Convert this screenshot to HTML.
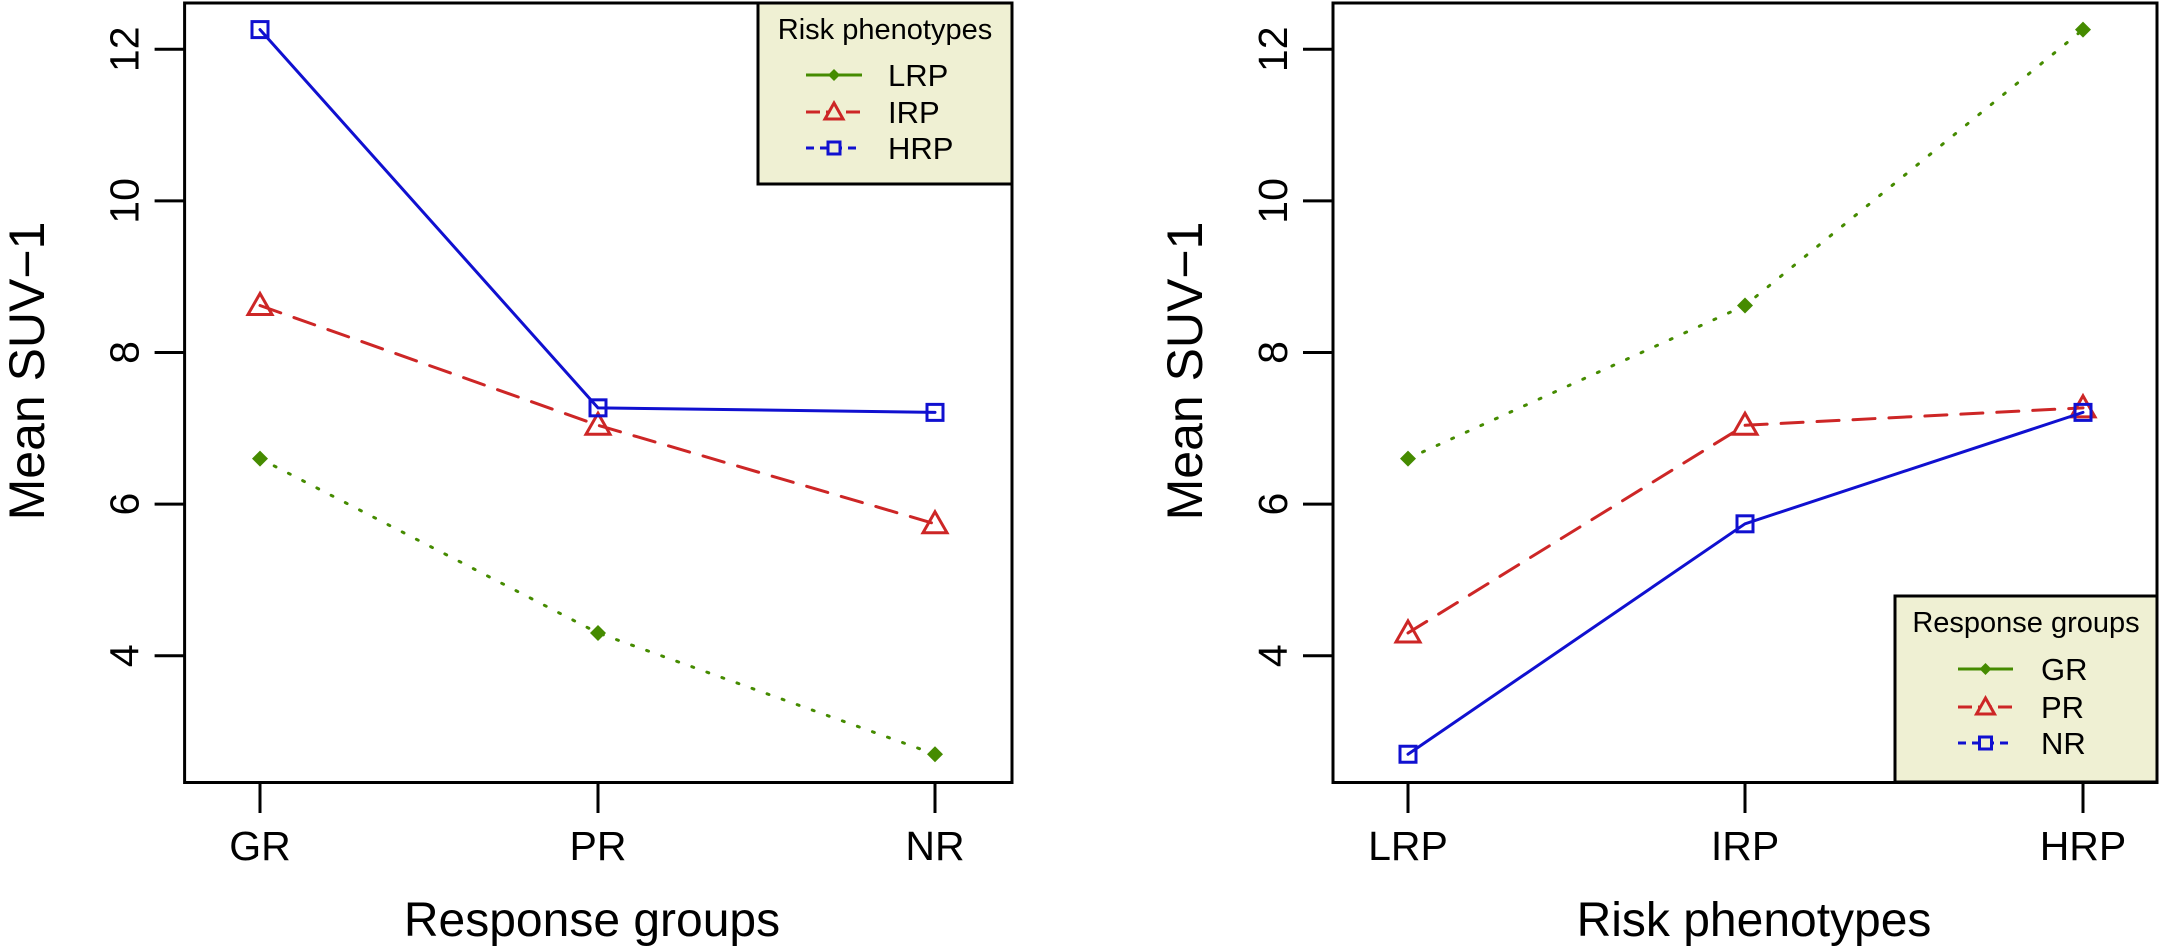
<!DOCTYPE html>
<html><head><meta charset="utf-8"><style>
html,body{margin:0;padding:0;background:#fff;}
svg{display:block;font-family:"Liberation Sans",sans-serif;}
</style></head><body>
<svg id="chart" width="2160" height="949" viewBox="0 0 2160 949" xmlns="http://www.w3.org/2000/svg"></svg>
<script>
const leftCategories = ["GR","PR","NR"];
const leftSeriesNames = ["LRP","IRP","HRP"];
const leftLRP = [6.6, 4.3, 2.7];
const leftIRP = [8.62, 7.04, 5.74];
const leftHRP = [12.26, 7.27, 7.21];
const rightCategories = ["LRP","IRP","HRP"];
const rightSeriesNames = ["GR","PR","NR"];
const rightGR = [6.6, 8.62, 12.26];
const rightPR = [4.3, 7.04, 7.27];
const rightNR = [2.7, 5.74, 7.21];
const yTicks = [4, 6, 8, 10, 12];

const svg = document.getElementById('chart');
const NS = "http://www.w3.org/2000/svg";
function mk(tag, attrs, parent, text){
  const e = document.createElementNS(NS, tag);
  for (const k in attrs) e.setAttribute(k, attrs[k]);
  if (text !== undefined) e.textContent = text;
  (parent || svg).appendChild(e);
  return e;
}
const GREEN="#458B00", RED="#CD2626", BLUE="#1010D0";
const styles = [
  {color:GREEN, dash:"2 14", marker:"diamond"},
  {color:RED, dash:"22 14", marker:"triangle"},
  {color:BLUE, dash:"", marker:"square"}
];
const legendDash = ["", "14 6", "8 6"];

function yScale(v){ return 655.7 - (v - 4) * 75.8; }

function marker(g, type, x, y, color){
  let m;
  if (type === "diamond") {
    m = mk('polygon', {points:`${x},${y-8} ${x+8},${y} ${x},${y+8} ${x-8},${y}`, fill:color}, g);
  } else if (type === "triangle") {
    m = mk('polygon', {points:`${x},${y-12} ${x+12},${y+9} ${x-12},${y+9}`, fill:"none", stroke:color, 'stroke-width':3}, g);
  } else {
    m = mk('rect', {x:x-8, y:y-8, width:16, height:16, fill:"none", stroke:color, 'stroke-width':3}, g);
  }
  
  
}

function panel(p){
  const g = mk('g', {});
  
  
  const xs = p.xs;
  // series
  p.series.forEach((vals, si) => {
    const st = styles[si];
    const sg = mk('g', {}, g);
    
    
    const pts = vals.map((v,i)=>`${xs[i]},${yScale(v)}`).join(' ');
    const pl = mk('polyline', {points:pts, fill:"none", stroke:st.color, 'stroke-width':3, 'stroke-dasharray':st.dash, 'stroke-linecap':'round'}, sg);
    
    
    vals.forEach((v,i)=>marker(sg, st.marker, xs[i], yScale(v), st.color));
  });
  // frame
  const fr = mk('rect', {x:p.left, y:3, width:p.right-p.left, height:779.5, fill:"none", stroke:"#000", 'stroke-width':3}, g);
  
  
  // x ticks
  p.cats.forEach((c,i)=>{
    const t = mk('line', {x1:xs[i], x2:xs[i], y1:782, y2:813, stroke:"#000", 'stroke-width':3}, g);
    
    
    const lab = mk('text', {x:xs[i], y:860, 'font-size':41, 'text-anchor':'middle'}, g, c);
    
    
  });
  // y ticks
  yTicks.forEach(v=>{
    const y = yScale(v);
    const t = mk('line', {x1:p.left-30, x2:p.left, y1:y, y2:y, stroke:"#000", 'stroke-width':3}, g);
    
    
    const lab = mk('text', {x:0, y:0, 'font-size':41, 'text-anchor':'middle', transform:`translate(${p.left-46},${y}) rotate(-90)`}, g, String(v));
    
    
  });
  const yt = mk('text', {x:0, y:0, 'font-size':50, 'text-anchor':'middle', transform:`translate(${p.ylabX},371) rotate(-90)`}, g, "Mean SUV\u22121");
  
  
  const xt = mk('text', {x:p.xtitleX, y:936, 'font-size':48, 'text-anchor':'middle'}, g, p.xtitle);
  
  
  // legend
  const L = p.legend;
  const lg = mk('g', {}, g);
  
  
  mk('rect', {x:L.x, y:L.y, width:L.w, height:L.h, fill:"#EFF0D3", stroke:"#000", 'stroke-width':3}, lg);
  const lt = mk('text', {x:L.x+L.w/2, y:L.y+36, 'font-size':29, 'text-anchor':'middle'}, lg, L.title);
  
  
  p.names.forEach((n,i)=>{
    const ey = L.y + L.rows[i];
    const st = styles[i];
    const eg = mk('g', {}, lg);
    
    
    mk('line', {x1:L.lx1, x2:L.lx2, y1:ey, y2:ey, stroke:st.color, 'stroke-width':3, 'stroke-dasharray':legendDash[i]}, eg);
    const mx = (L.lx1+L.lx2)/2;
    if (st.marker==="diamond") mk('polygon',{points:`${mx},${ey-6} ${mx+6},${ey} ${mx},${ey+6} ${mx-6},${ey}`, fill:st.color}, eg);
    else if (st.marker==="triangle") mk('polygon',{points:`${mx},${ey-9} ${mx+9},${ey+7} ${mx-9},${ey+7}`, fill:"#EFF0D3", stroke:st.color,'stroke-width':3}, eg);
    else mk('rect',{x:mx-6,y:ey-6,width:12,height:12, fill:"#EFF0D3", stroke:st.color,'stroke-width':3}, eg);
    mk('text', {x:L.tx, y:ey+11, 'font-size':31}, eg, n);
  });
}

panel({
  name:"left-panel", left:184.6, right:1012, xs:[260,598,935],
  cats:leftCategories, names:leftSeriesNames, series:[leftLRP,leftIRP,leftHRP],
  ylabX:44, xtitle:"Response groups", xtitleX:592,
  legend:{x:758, y:3, w:254, h:181, title:"Risk phenotypes", rows:[72,109,145], lx1:806, lx2:862, tx:888}
});
panel({
  name:"right-panel", left:1333, right:2157, xs:[1408,1745,2083],
  cats:rightCategories, names:rightSeriesNames, series:[rightGR,rightPR,rightNR],
  ylabX:1202, xtitle:"Risk phenotypes", xtitleX:1754,
  legend:{x:1895, y:596, w:262, h:186, title:"Response groups", rows:[73,111,147], lx1:1958, lx2:2013, tx:2041}
});
</script>
</body></html>
